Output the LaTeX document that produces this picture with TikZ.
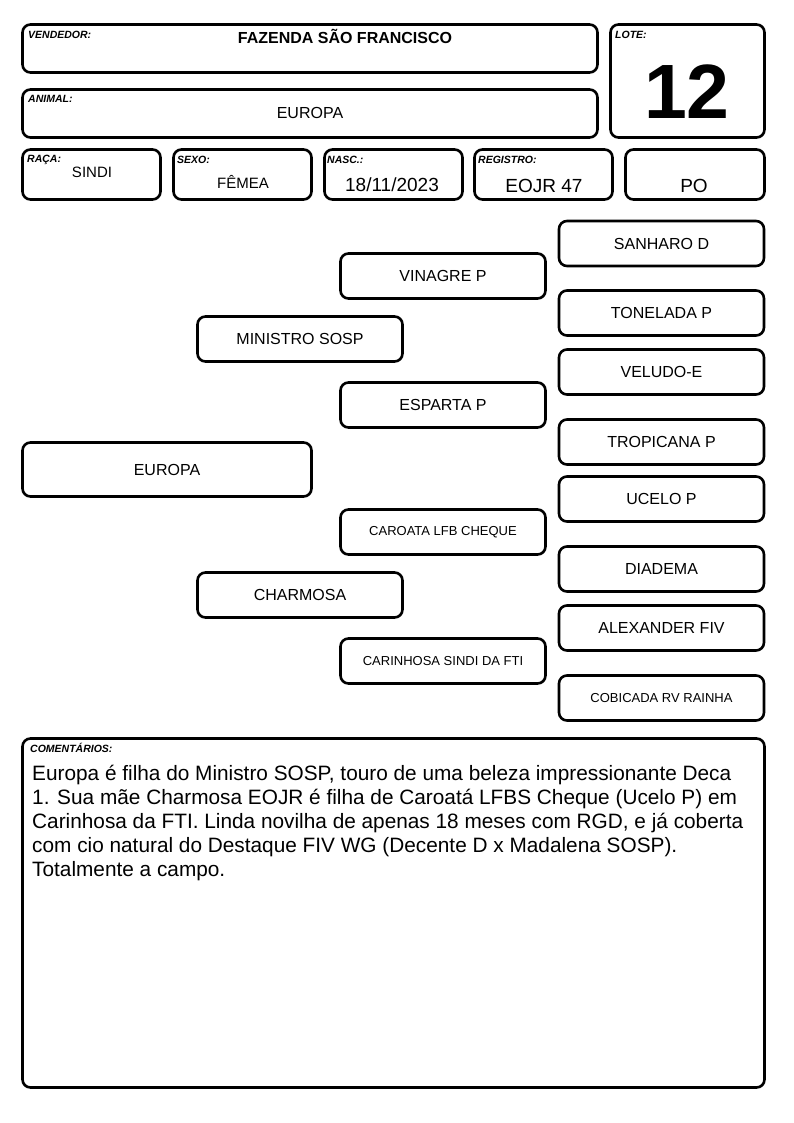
\documentclass[tikz,border=0pt]{standalone}
\usepackage{fontspec}
\setmainfont{Liberation Sans}
\begin{document}
\begin{tikzpicture}[x=1pt,y=-1pt,
  frame/.style={draw, line width=2.6pt, rounded corners=8pt, inner sep=0pt},
  pbox/.style={frame, minimum width=205pt, minimum height=45pt, font=\fontsize{16}{19}\selectfont},
  pboxs/.style={pbox, font=\fontsize{13}{16}\selectfont},
  lab/.style={anchor=base west, inner sep=0pt, font=\fontsize{10.5}{12}\selectfont\bfseries\itshape},
  val/.style={anchor=base, inner sep=0pt},
]
\useasboundingbox (0,0) rectangle (794,1123);

% header boxes
\node[frame, minimum width=575pt, minimum height=48pt] (vend) at (310,48.5) {};
\node[frame, minimum width=154pt, minimum height=113pt] (lote) at (687.5,81) {};
\node[frame, minimum width=575pt, minimum height=48pt] (animal) at (310,113.5) {};
\node[frame, minimum width=138pt, minimum height=50pt] (raca) at (91.5,174.5) {};
\node[frame, minimum width=138pt, minimum height=50pt] (sexo) at (242.5,174.5) {};
\node[frame, minimum width=138pt, minimum height=50pt] (nasc) at (393.5,174.5) {};
\node[frame, minimum width=138pt, minimum height=50pt] (reg) at (543.5,174.5) {};
\node[frame, minimum width=139pt, minimum height=50pt] (po) at (695,174.5) {};

% header labels
\node[lab] (lvend) at (28,39) {VENDEDOR:};
\node[lab] (llote) at (615,39) {LOTE:};
\node[lab] (lanimal) at (28,103) {ANIMAL:};
\node[lab] (lraca) at (27,163) {RAÇA:};
\node[lab] (lsexo) at (177,164) {SEXO:};
\node[lab] (lnasc) at (327,164) {NASC.:};
\node[lab] (lreg) at (478,164) {REGISTRO:};

% header values
\node[val, font=\fontsize{16}{19}\selectfont\bfseries] (tvend) at (345,43.5) {FAZENDA SÃO FRANCISCO};
\node[val, font=\fontsize{77}{80}\selectfont\bfseries] (tlote) at (687,119) {12};
\node[val, font=\fontsize{16}{19}\selectfont] (tanimal) at (310,119) {EUROPA};
\node[val, font=\fontsize{15}{18}\selectfont] (traca) at (92,178) {SINDI};
\node[val, font=\fontsize{15}{18}\selectfont] (tsexo) at (243,189) {FÊMEA};
\node[val, font=\fontsize{19}{22}\selectfont] (tnasc) at (392,192) {18/11/2023};
\node[val, font=\fontsize{19}{22}\selectfont] (treg) at (544,192.5) {EOJR 47};
\node[val, font=\fontsize{19}{22}\selectfont] (tpo) at (694,193) {PO};

% pedigree
\node[pbox] (sanharo) at (661.5,243.5) {SANHARO D};
\node[pbox] (vinagre) at (443,276) {VINAGRE P};
\node[pbox] (tonelada) at (661.5,313) {TONELADA P};
\node[pbox] (ministro) at (300,339) {MINISTRO SOSP};
\node[pbox] (veludo) at (661.5,372) {VELUDO-E};
\node[pbox] (esparta) at (443,405) {ESPARTA P};
\node[pbox] (tropicana) at (661.5,442) {TROPICANA P};
\node[pbox, minimum width=289pt, minimum height=54pt] (europa) at (167,469.5) {EUROPA};
\node[pbox] (ucelo) at (661.5,499) {UCELO P};
\node[pboxs] (caroata) at (443,532) {CAROATA LFB CHEQUE};
\node[pbox] (diadema) at (661.5,569) {DIADEMA};
\node[pbox] (charmosa) at (300,595) {CHARMOSA};
\node[pbox] (alexander) at (661.5,628) {ALEXANDER FIV};
\node[pboxs] (carinhosa) at (443,661) {CARINHOSA SINDI DA FTI};
\node[pboxs] (cobicada) at (661.5,698) {COBICADA RV RAINHA};

% comments
\node[frame, minimum width=742pt, minimum height=349pt] (coment) at (393.5,913) {};
\node[lab] (lcoment) at (30,752) {COMENTÁRIOS:};
\node[anchor=base west, inner sep=0pt, align=left, font=\fontsize{20.8}{24}\selectfont] (tcoment) at (32,876)
{Europa é filha do Ministro SOSP, touro de uma beleza impressionante Deca\\
1. Sua mãe Charmosa EOJR é filha de Caroatá LFBS Cheque (Ucelo P) em\\
Carinhosa da FTI. Linda novilha de apenas 18 meses com RGD, e já coberta\\
com cio natural do Destaque FIV WG (Decente D x Madalena SOSP).\\
Totalmente a campo.};
\end{tikzpicture}
\end{document}
